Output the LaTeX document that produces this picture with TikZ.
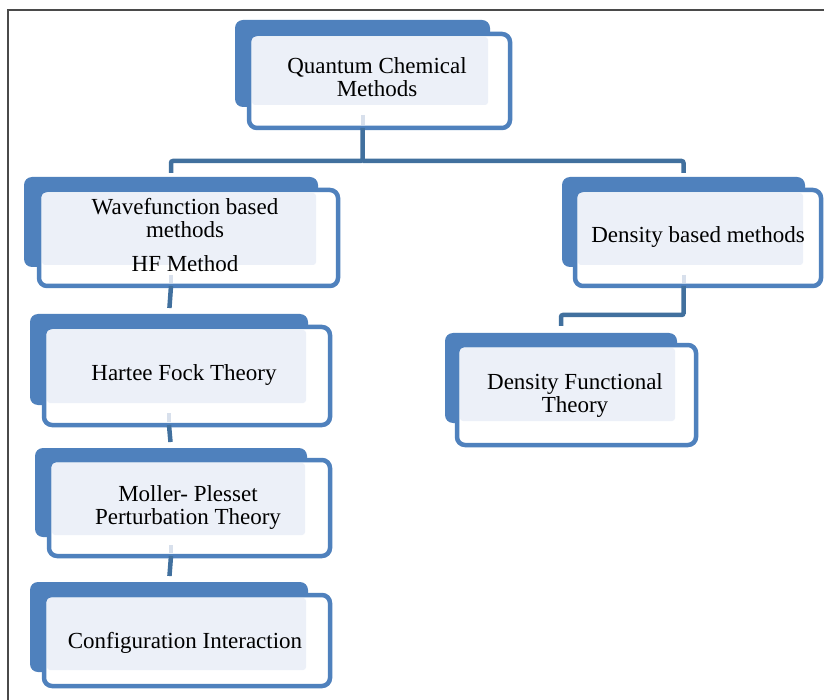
\documentclass[tikz,border=0pt]{standalone}
\usepackage{fontspec}
\setmainfont{Liberation Serif}
\usetikzlibrary{fit}
\definecolor{bblue}{HTML}{4F81BD}
\definecolor{cblue}{HTML}{41709E}
\definecolor{lfill}{HTML}{ECF0F8}
\definecolor{pale}{HTML}{D8E0EC}
\definecolor{framegray}{HTML}{4A4A4A}
\tikzset{
  backbox/.style={fill=bblue, rounded corners=8, inner sep=0pt, outer sep=0pt, draw=none},
  frontbox/.style={fill=white, draw=bblue, line width=4.5pt, rounded corners=8, inner sep=0pt, outer sep=0pt},
  lbl/.style={align=center, font=\fontsize{23}{23}\selectfont, inner sep=0pt, text=black},
  conn/.style={draw=cblue, line width=4.5pt, rounded corners=2},
  stub/.style={draw=pale, line width=4pt},
}
\newcommand\qbox[9]{%
  \node[backbox, fit={(#2,#3) (#4,#5)}] (#1-b) {};
  \node[frontbox, fit={(#6,#7) (#8,#9)}] (#1) {};
  \fill[lfill, rounded corners=3] ({#6+3},{#7+3}) rectangle ({#4-2},{#5-2});
}
\begin{document}
\begin{tikzpicture}[x=1pt, y=-1pt]
\useasboundingbox (0,0) rectangle (824,700);
\clip (0,0) rectangle (824,700);
\fill[white] (0,0) rectangle (824,700);
\draw[framegray, line width=2pt] (8,720) -- (8,10) -- (840,10);

\qbox{q}{235}{20}{490}{107}{249}{34}{510}{128}
\qbox{wf}{24}{177}{318}{267}{39}{190}{338}{286}
\qbox{hf}{30}{314}{308}{405}{44}{327}{330}{425}
\qbox{mp}{35}{448}{307}{537}{49}{460}{330}{556}
\qbox{ci}{30}{582}{308}{672}{44}{595}{330}{686}
\qbox{db}{562}{177}{805}{267}{575}{190}{821}{286}
\qbox{dft}{445}{333}{677}{423}{457}{345}{696}{445}

% pale stubs inside boxes
\foreach \b in {q,wf,hf,mp,db}{
  \draw[stub, shorten <=8pt, shorten >=3pt] (\b-b.south) -- (\b.south -| \b-b.south);
}

% text (base anchor = baseline of last line)
\node[lbl, anchor=base] (q-t) at (377,97) {Quantum Chemical\\Methods};
\node[lbl, anchor=base] (wf-t) at (185,272) {Wavefunction based\\methods\\[11pt]HF Method};
\node[lbl, anchor=base] (hf-t) at (184,380) {Hartee Fock Theory};
\node[lbl, anchor=base] (mp-t) at (188,524) {Moller- Plesset\\Perturbation Theory};
\node[lbl, anchor=base] (ci-t) at (185,648) {Configuration Interaction};
\node[lbl, anchor=base] (db-t) at (698,243) {Density based methods};
\node[lbl, anchor=base] (dft-t) at (575,412) {Density Functional\\Theory};

% connectors
\coordinate (j1) at (0,161);
\coordinate (j2) at (0,315);
\draw[conn, shorten >=4pt] (q.south -| q-b.south) -- (q-b.south |- j1) -| (wf-b.north);
\draw[conn, shorten >=4pt] (q-b.south |- j1) -| (db-b.north);
\draw[conn, shorten >=6pt] (wf.south -| wf-b.south) -- (hf-b.north);
\draw[conn, shorten >=6pt] (hf.south -| hf-b.south) -- (mp-b.north);
\draw[conn, shorten >=6pt] (mp.south -| mp-b.south) -- (ci-b.north);
\draw[conn, shorten >=7pt] (db.south -| db-b.south) |- (j2 -| db-b.south) -| (dft-b.north);
\end{tikzpicture}
\end{document}
